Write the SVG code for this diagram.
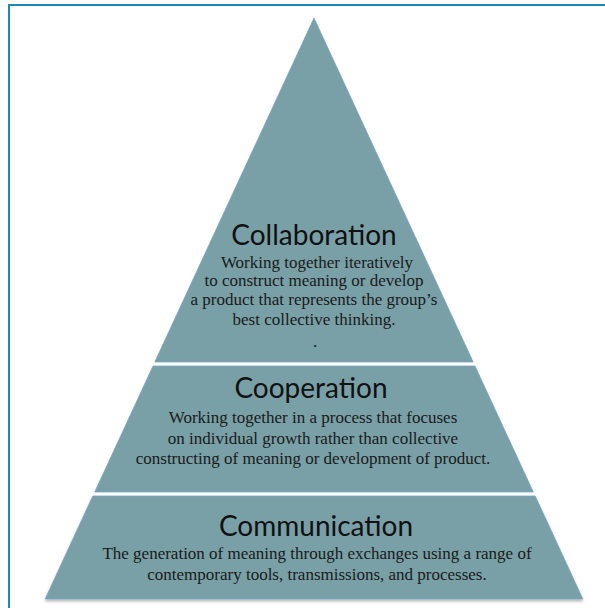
<svg xmlns="http://www.w3.org/2000/svg" width="605" height="608" viewBox="0 0 605 608">
<defs>
<filter id="sh" x="-10%" y="-10%" width="120%" height="130%">
<feGaussianBlur in="SourceAlpha" stdDeviation="1.5"/>
<feOffset dx="0" dy="2" result="b"/>
<feComponentTransfer><feFuncA type="linear" slope="0.3"/></feComponentTransfer>
<feMerge><feMergeNode/><feMergeNode in="SourceGraphic"/></feMerge>
</filter>
<style>
.tier{fill:#78a0a6;stroke:#7aa6c4;stroke-width:0.8}
.h{font-family:Lato,"Open Sans","Liberation Sans",sans-serif;font-size:28px;fill:#111;text-anchor:middle}
.b{font-family:"Liberation Serif","Times New Roman",serif;font-size:17px;fill:#1a1a1a;text-anchor:middle}
</style>
</defs>
<rect width="605" height="608" fill="#fff"/>
<rect x="9" y="5" width="640" height="640" fill="none" stroke="#1d8ab5" stroke-width="2"/>
<g id="collaboration">
<polygon class="tier" points="314,18 473.2,362 154.8,362"/>
<text class="h" x="314" y="245">Collaboration</text>
<text class="b" x="317" y="267.5">Working together iteratively</text>
<text class="b" x="314" y="286">to construct meaning or develop</text>
<text class="b" x="314" y="304.5">a product that represents the group’s</text>
<text class="b" x="314" y="324.5">best collective thinking.</text>
<text class="b" x="315" y="347" font-size="10">.</text>
</g>
<g id="cooperation">
<polygon class="tier" points="153,366 475,366 533.3,492 94.7,492"/>
<text class="h" x="311" y="398">Cooperation</text>
<text class="b" x="313" y="423">Working together in a process that focuses</text>
<text class="b" x="313" y="444">on individual growth rather than collective</text>
<text class="b" x="313" y="464">constructing of meaning or development of product.</text>
</g>
<g id="communication">
<polygon class="tier" points="92.8,496 535.2,496 582.8,599 45.2,599" filter="url(#sh)"/>
<text class="h" x="316" y="536">Communication</text>
<text class="b" x="317" y="559">The generation of meaning through exchanges using a range of</text>
<text class="b" x="317" y="579.5">contemporary tools, transmissions, and processes.</text>
</g>
<g id="connectors"/>
</svg>
